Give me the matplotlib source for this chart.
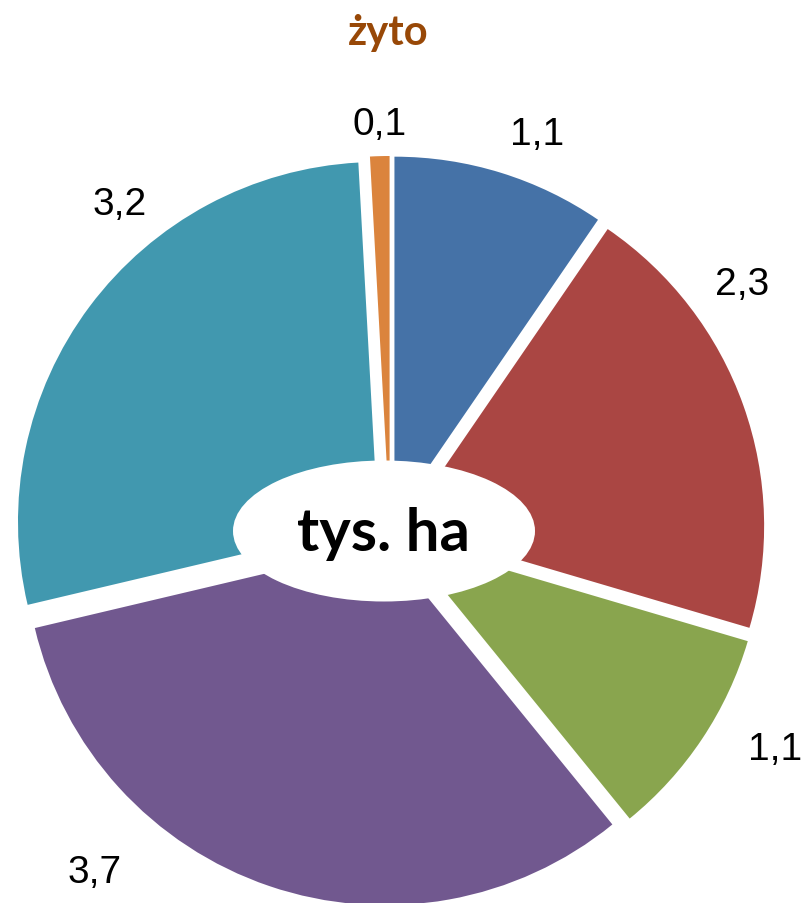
import matplotlib.pyplot as plt
from matplotlib.patches import Ellipse

# data (tys. ha), clockwise from 12 o'clock
values = [1.1, 2.3, 1.1, 3.7, 3.2, 0.1]
labels = ["1,1", "2,3", "1,1", "3,7", "3,2", "0,1"]
colors = ["#4572A7", "#AA4643", "#89A54E", "#71588F", "#4198AF", "#DB843D"]
title = "żyto"
center_text = "tys. ha"

W, H = 802, 904
fig = plt.figure(figsize=(W / 100, H / 100), dpi=100)
ax = fig.add_axes([0, 0, 1, 1])

cx, cy, r = 390, H - 532, 360
wedges, texts = ax.pie(values, labels=labels, colors=colors, startangle=90,
                       counterclock=False, center=(cx, cy), radius=r,
                       explode=[15] * len(values), labeldistance=1.13,
                       wedgeprops=dict(linewidth=0),
                       textprops=dict(fontsize=28, family="Liberation Sans"),
                       frame=True)
ax.set_xlim(0, W)
ax.set_ylim(0, H)
ax.axis("off")

# label positions as placed in the original (best-fit style)
label_pos = [(537, 135), (742, 285), (775, 750), (95, 873), (120, 205), (380, 125)]
for t, (x, y) in zip(texts, label_pos):
    t.set_position((x, H - y))
    t.set_ha("center")
    t.set_va("center")

ax.add_patch(Ellipse((384, H - 532), 302, 141, facecolor="white",
                     edgecolor="none", zorder=5))
ax.text(383, H - 534, center_text, ha="center", va="center", fontsize=43,
        fontweight="bold", family="Lato", zorder=6)

ax.text(388, H - 33, title, ha="center", va="center", fontsize=30,
        fontweight="bold", family="Lato", color="#984807")

fig.savefig("out.png", dpi=100)
